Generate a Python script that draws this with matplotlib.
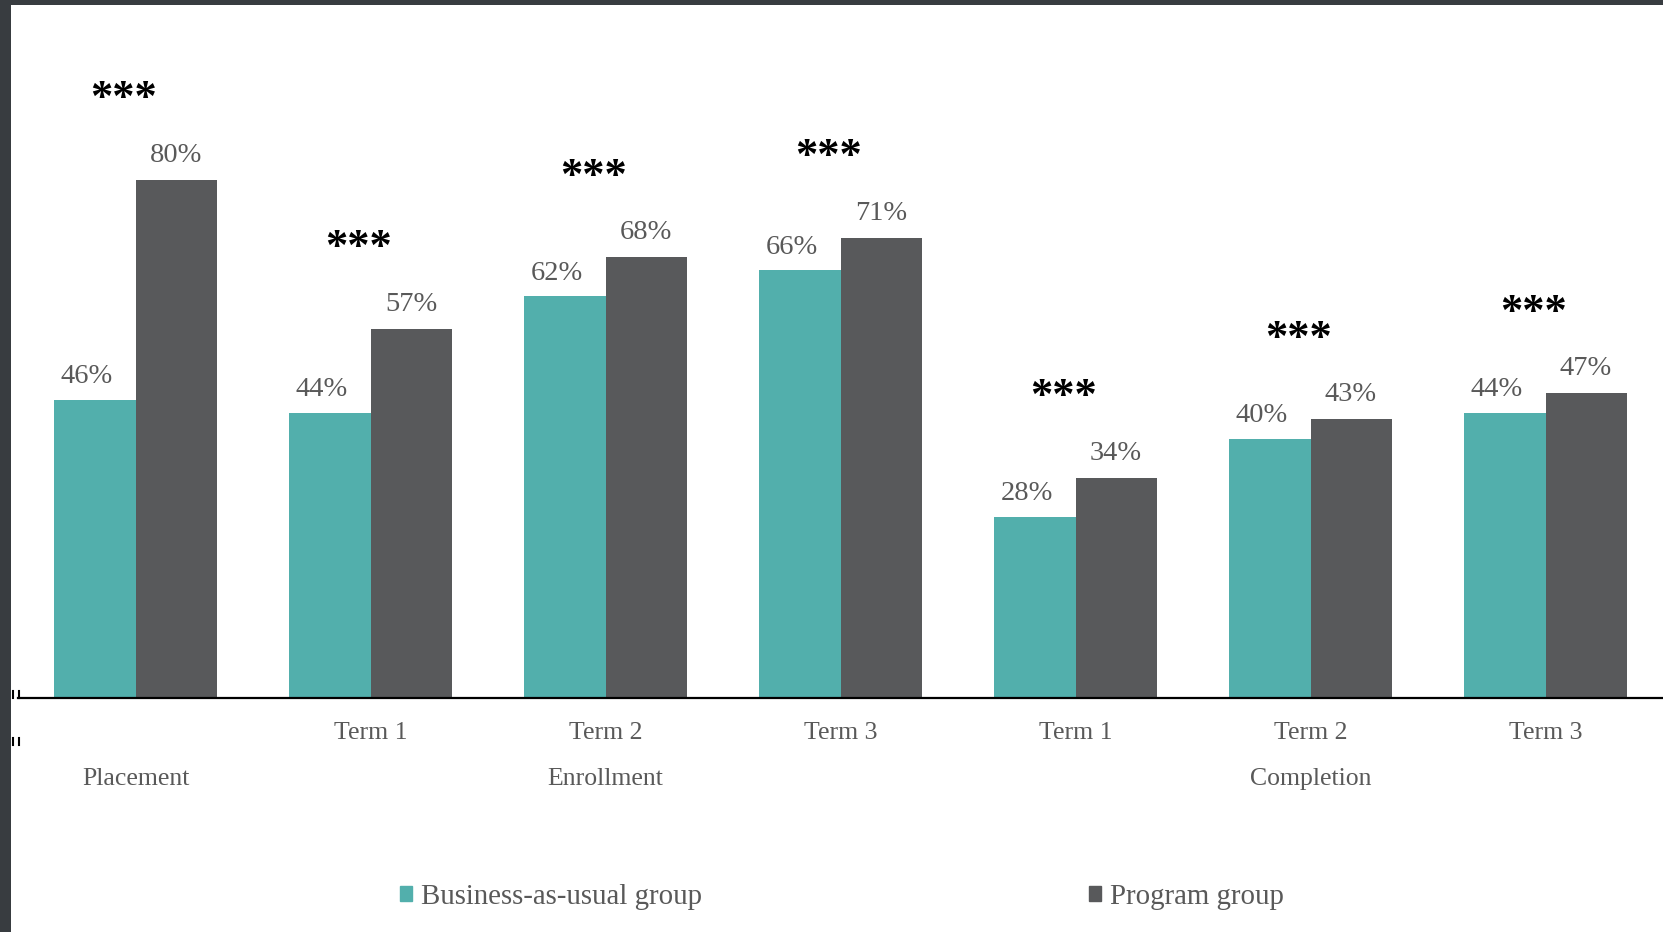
import matplotlib
matplotlib.use('Agg')
import matplotlib.pyplot as plt
from matplotlib.patches import Patch, Rectangle
from matplotlib.lines import Line2D
import matplotlib.transforms as mtransforms
import numpy as np

plt.rcParams['font.family'] = ['Liberation Serif', 'DejaVu Serif']

# data
term_labels = ['', 'Term 1', 'Term 2', 'Term 3', 'Term 1', 'Term 2', 'Term 3']
group_labels = ['Placement', 'Enrollment', 'Completion']
group_label_pos = [0, 2, 5]
bau = [46, 44, 62, 66, 28, 40, 44]
program = [80, 57, 68, 71, 34, 43, 47]
signif = ['***'] * 7

teal = '#52afac'
dark = '#58595b'
txt = '#595959'
frame = '#383c40'

W, H = 1663, 932
fig = plt.figure(figsize=(W / 100, H / 100), dpi=100)
ax = fig.add_axes([18 / W, 1 - 698 / H, 1 - 18 / W, 648 / H])

x = np.arange(len(bau))
w = 0.345
ax.bar(x - w / 2, bau, w, color=teal)
ax.bar(x + w / 2, program, w, color=dark)

ax.set_xlim(-0.5, 6.5)
ax.set_ylim(0, 100)
for s in ['top', 'right', 'left']:
    ax.spines[s].set_visible(False)
ax.spines['bottom'].set_linewidth(1.6)
ax.spines['bottom'].set_color('black')
ax.set_yticks([])
ax.set_xticks(x)
ax.set_xticklabels(term_labels, fontsize=18.5, color=txt)
ax.tick_params(axis='x', length=0, pad=17)

# second level category labels
trans = mtransforms.blended_transform_factory(ax.transData, fig.transFigure)
for lab, p in zip(group_labels, group_label_pos):
    ax.text(p, 1 - 779 / H, lab, transform=trans, ha='center', va='center',
            fontsize=18.5, color=txt)

# value labels
for xi, v in zip(x, bau):
    ax.annotate(f'{v}%', (xi - w / 2, v), xytext=(-6, 12), textcoords='offset points',
                ha='center', va='baseline', fontsize=20.5, color=txt)
for xi, v in zip(x, program):
    ax.annotate(f'{v}%', (xi + w / 2, v), xytext=(0, 13), textcoords='offset points',
                ha='center', va='baseline', fontsize=20.5, color=txt)

# significance stars
for xi, v, s in zip(x, program, signif):
    ax.annotate(s, (xi - 0.05, v), xytext=(0, 50), textcoords='offset points',
                ha='center', va='baseline', fontsize=32, fontweight='bold', color='black')

# legend
handles = [Patch(color=teal, label='Business-as-usual group'),
           Patch(color=dark, label='Program group')]
fig.legend(handles=handles, loc='center', bbox_to_anchor=(842 / W, 1 - 897 / H), ncol=2,
           frameon=False, fontsize=20.8, handlelength=0.42, handleheight=0.42,
           handletextpad=0.3, columnspacing=13.4, labelcolor=txt)

# small divider marks at the left of the category axis
for yy in [691, 738]:
    for xx in [12.5, 19]:
        fig.add_artist(Line2D([xx / W, xx / W], [1 - yy / H, 1 - (yy + 7) / H],
                              color='black', lw=1.5, transform=fig.transFigure))

# screenshot frame
fig.add_artist(Rectangle((0, 0), 11 / W, 1, transform=fig.transFigure,
                         color=frame, lw=0, zorder=10))
fig.add_artist(Rectangle((0, 1 - 5 / H), 1, 5 / H, transform=fig.transFigure,
                         color=frame, lw=0, zorder=10))

fig.savefig('out.png', dpi=100)
